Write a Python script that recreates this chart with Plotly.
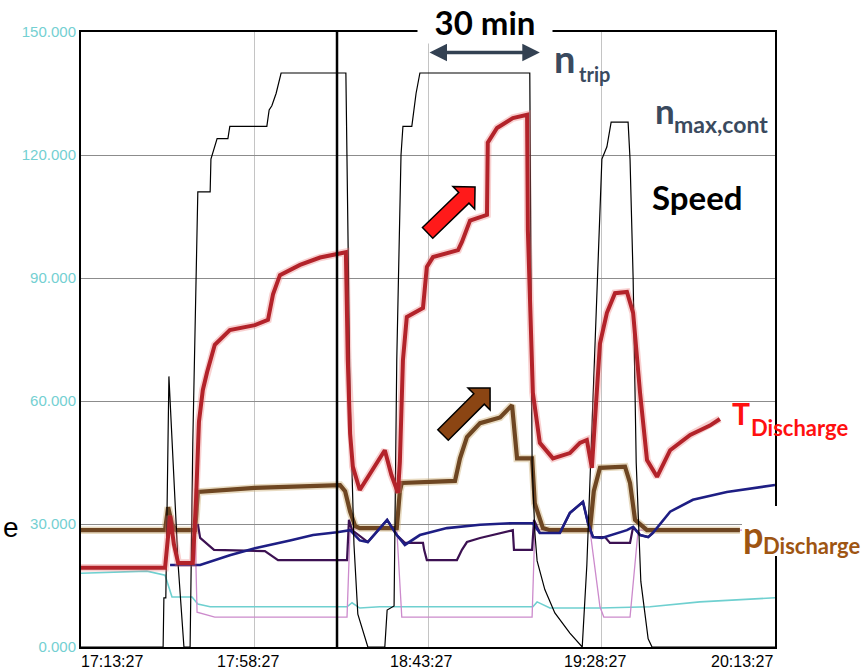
import math
import plotly.graph_objects as go

# ---------------- data (time in minutes after 17:13:27) ----------------
X_TICK_MIN = [0, 45, 90, 135, 180]
X_TICK_TEXT = ["17:13:27", "17:58:27", "18:43:27", "19:28:27", "20:13:27"]
Y_TICKS = [0, 30, 60, 90, 120, 150]
Y_TICK_TEXT = ["0.000", "30.000", "60.000", "90.000", "120.000", "150.000"]

speed_t = [0, 21.3, 21.5, 22.0, 22.8, 23.6, 25.2, 26.7, 28.3, 29.0,
           30.1, 30.3, 33.5, 33.7, 35.3, 38.1, 38.6, 48.2, 48.8, 49.5,
           50.6, 51.9, 68.7, 69.2, 69.8, 70.8, 71.8, 74.4, 78.8, 79.4,
           81.2, 81.9, 83.0, 83.5, 85.8, 86.9, 87.9, 116.4, 117.0, 117.7,
           118.3, 120.3, 122.9, 126.8, 130.0, 131.2, 132.0, 133.8, 135.1, 136.4,
           137.5, 141.9, 142.4, 143.2, 144.0, 145.2, 147.1, 148.1, 180]
speed_v = [0, 0, 12, 12, 66, 50, 20, 0, 0, 50,
           100, 111, 111, 119, 124, 124, 127, 127, 131, 132,
           135, 140, 140, 100, 60, 25, 8, 0, 0, 9,
           10, 70, 120, 127, 127, 135, 140, 140, 45, 28,
           21, 14, 8.3, 3.4, 0, 20, 41, 86, 119, 122,
           128, 128, 119, 90, 45, 16, 2, 0, 0]

t_dis_t = [0, 21.8, 23.1, 24.1, 25.2, 29.0, 29.8, 30.6, 31.6, 32.7,
           34.7, 38.6, 45.1, 48.5, 49.8, 51.6, 56.8, 62.0, 68.7, 69.2,
           69.8, 70.5, 72.3, 75.5, 78.8, 80.5, 82.2, 82.7, 83.5, 84.5,
           88.7, 89.7, 91.3, 97.8, 98.8, 100.9, 105.3, 105.5, 107.9, 112.0,
           115.7, 115.9, 117.2, 119.0, 122.4, 126.8, 129.4, 131.2, 132.5, 134.6,
           136.4, 138.5, 141.6, 143.2, 145.0, 146.8, 149.4, 152.8, 158.0, 163.1,
           165.7]
t_dis_v = [19.3, 19.3, 32, 25, 20.5, 20.5, 35, 55, 62.7, 67,
           73.7, 77.3, 78.5, 79.8, 86, 90.7, 93.2, 95, 96.3, 70,
           52, 44, 38.3, 43, 48, 42, 37.6, 45, 70, 80.5,
           82.7, 92.7, 95.1, 96.8, 98.8, 104, 105.4, 123, 126.6, 129,
           129.8, 101.7, 62, 49.8, 46, 47.3, 49.8, 50.5, 43.7, 74,
           81.5, 86.3, 86.6, 81.5, 62, 45.6, 41.5, 48, 51.7, 54,
           55.6]

p_dis_t = [0, 21.8, 22.6, 23.6, 24.6, 29.6, 30.3, 45.1, 67.2, 68.5,
           69.8, 71.1, 72.3, 81.9, 82.7, 83.2, 97.0, 98.3, 100.1, 103.5,
           108.7, 111.8, 113.1, 117.0, 117.7, 119.8, 121.6, 132.0, 133.0, 134.6,
           141.1, 142.4, 143.7, 146.8, 170.9]
p_dis_v = [28.5, 28.5, 34.1, 30, 28.5, 28.5, 37.8, 38.8, 39.5, 38,
           33, 29.5, 29, 29, 38, 40, 40.5, 46, 51.2, 54.6,
           56, 59, 46, 46, 35, 29, 28.5, 28.5, 38, 43.7,
           44, 40, 31, 28.5, 28.5]

navy_t = [23.1, 30.9, 38.6, 45.1, 54.2, 60.2, 66.4, 69.8, 72.3, 74.4,
          79.4, 81.9, 84.0, 87.9, 94.9, 103.5, 112.0, 117.2, 119.0, 124.2,
          126.8, 130.2, 131.5, 132.8, 135.1, 141.6, 143.2, 145.0, 147.1, 148.3,
          152.8, 158.7, 167.5, 180]
navy_v = [20, 20, 22.4, 24.1, 26, 27.3, 28, 28.5, 26, 25.6,
          31, 27.3, 24.9, 27.3, 29, 29.8, 30.2, 30.2, 27.8, 27.8,
          32.7, 35.4, 30.2, 26.8, 26.6, 28.5, 29.3, 27.3, 26.8, 27.8,
          33, 35.9, 37.8, 39.5]

purple_t = [30.3, 30.9, 34.5, 47.7, 51.1, 69.0, 69.5, 70.3, 74.4, 79.4,
            81.9, 84.0, 88.7, 89.0, 89.7, 97.5, 98.8, 100.1, 103.5, 112.0,
            112.3, 117.0, 117.5, 119.0, 124.2, 126.8, 130.2, 131.5, 132.8, 135.9,
            137.2, 142.4, 143.2, 145.0, 147.1, 148.3]
purple_v = [30, 26.6, 23.7, 23.4, 21.2, 21.2, 31, 28.5, 25.6, 31,
            27.3, 25.4, 25.4, 23.7, 21.2, 21.2, 23.7, 25.6, 26.6, 28.5,
            23.7, 23.7, 31, 27.8, 27.8, 32.7, 35.4, 30.2, 26.8, 26.8,
            25.4, 25.4, 29.3, 27.3, 26.8, 27.8]

pink_t = [21.8, 29.6, 30.1, 34.7, 69.0, 69.8, 81.9, 83.2, 117.0, 117.7,
          132.0, 134.6, 135.6, 142.4, 144.5, 180]
pink_v = [28.5, 28.5, 8.5, 7.3, 7.3, 28.8, 28.8, 7.3, 7.3, 28.6,
          28.6, 9.8, 7.3, 7.3, 28.5, 28.5]

cyan_t = [0, 17.1, 21.8, 22.3, 23.6, 28.8, 30.3, 33.5, 69.0, 70.3,
          72.3, 77.5, 117.2, 118.3, 121.6, 134.6, 147.6, 160.5, 180]
cyan_v = [18, 18.5, 17.5, 16, 12.2, 12.2, 10.5, 9.8, 9.8, 10.8,
          9.5, 9.8, 9.8, 11, 9.5, 9.5, 9.8, 11, 12]

cursor_t = 66.4
span_30min = [90, 119]
span_y = 145.0
red_arrow = [(89.9, 101.0), (102.2, 112.2)]
brown_arrow = [(93.9, 51.7), (106.1, 63.2)]

# ---------------- layout geometry ----------------
W_FIG, H_FIG = 865, 670
ML, MR, MT, MB = 81, 90, 32, 23
PW = W_FIG - ML - MR
PH = H_FIG - MT - MB
KX = PW / 180.0
KY = PH / 150.0


def pxx(xp):
    return (xp - ML) / PW


def pxy(yp):
    return (MT + PH - yp) / PH


fig = go.Figure()


def add_line(t, v, color, width, name):
    fig.add_trace(go.Scatter(x=t, y=v, mode="lines", name=name,
                             line=dict(color=color, width=width),
                             hoverinfo="skip", showlegend=False))


add_line(cyan_t, cyan_v, "#6FD0D0", 1.6, "cyan")
add_line(pink_t, pink_v, "#CC8ACC", 1.3, "pink")
add_line(p_dis_t, p_dis_v, "rgba(205,175,120,0.45)", 7.5, "p halo")
add_line(p_dis_t, p_dis_v, "#6E4622", 4.2, "p Discharge")
add_line(purple_t, purple_v, "#3C1152", 2.2, "purple")
add_line(navy_t, navy_v, "#1E1E84", 2.6, "navy")
add_line(speed_t, speed_v, "#000000", 1.2, "Speed")
add_line(t_dis_t, t_dis_v, "rgba(235,120,120,0.35)", 7.5, "T halo")
add_line(t_dis_t, t_dis_v, "#B3232A", 4.0, "T Discharge")

shapes = []
shapes.append(dict(type="line", xref="x", yref="paper", x0=cursor_t, x1=cursor_t,
                   y0=0, y1=1, line=dict(color="black", width=2.5), layer="above"))


def block_arrow(tail, tip, shaft_hw, head_hw, head_len, color):
    x0, y0 = tail[0] * KX, tail[1] * KY
    x1, y1 = tip[0] * KX, tip[1] * KY
    dx, dy = x1 - x0, y1 - y0
    L = math.hypot(dx, dy)
    ux, uy = dx / L, dy / L
    nx, ny = -uy, ux
    bx, by = x1 - ux * head_len, y1 - uy * head_len
    pts = [(x0 + nx * shaft_hw, y0 + ny * shaft_hw),
           (bx + nx * shaft_hw, by + ny * shaft_hw),
           (bx + nx * head_hw, by + ny * head_hw),
           (x1, y1),
           (bx - nx * head_hw, by - ny * head_hw),
           (bx - nx * shaft_hw, by - ny * shaft_hw),
           (x0 - nx * shaft_hw, y0 - ny * shaft_hw)]
    path = "M " + " L ".join(f"{px / KX:.4f},{py / KY:.4f}" for px, py in pts) + " Z"
    return dict(type="path", xref="x", yref="y", path=path, fillcolor=color,
                line=dict(color="black", width=1.5), layer="above")


shapes.append(block_arrow(red_arrow[0], red_arrow[1], 7.4, 15.6, 15.6, "#FF1A1A"))
shapes.append(block_arrow(brown_arrow[0], brown_arrow[1], 7.4, 15.6, 15.6, "#8B4513"))

# white patch behind the p_Discharge label (covers frame)
shapes.append(dict(type="rect", xref="paper", yref="paper",
                   x0=pxx(742), x1=pxx(864), y0=pxy(556), y1=pxy(506),
                   fillcolor="white", line=dict(width=0), layer="above"))

annotations = []

# x tick labels
for i, (tv, tt) in enumerate(zip(X_TICK_MIN, X_TICK_TEXT)):
    if i == 0:
        xa, xs = "left", -2
    elif i == len(X_TICK_MIN) - 1:
        xa, xs = "right", 0
    else:
        xa, xs = "center", -7
    annotations.append(dict(x=tv, y=0, xref="x", yref="paper", text=tt,
                            showarrow=False, xanchor=xa, yanchor="top",
                            xshift=xs, yshift=-4,
                            font=dict(family="Liberation Sans, Arial", size=16,
                                      color="black")))

# 30 min double arrow
annotations.append(dict(x=span_30min[1], y=span_y, ax=span_30min[0], ay=span_y,
                        xref="x", yref="y", axref="x", ayref="y", text="",
                        showarrow=True, arrowhead=2, startarrowhead=2,
                        arrowside="end+start", arrowsize=1.0, startarrowsize=1.0,
                        arrowwidth=3.5, arrowcolor="#334152"))

LATO = "Lato, Open Sans, sans-serif"
SLATE = "#3A4A5E"
BROWN_TXT = "#9E5512"


def label(text, xp, yp, size, color, xanchor="left", bg=None, width=None):
    d = dict(x=pxx(xp), y=pxy(yp), xref="paper", yref="paper", text=text,
             showarrow=False, xanchor=xanchor, yanchor="middle",
             font=dict(family=LATO, size=size, color=color))
    if bg:
        d["bgcolor"] = bg
    if width:
        d["width"] = width
    annotations.append(d)


label("<b>30 min</b>", 485, 22, 33, "black", xanchor="center", bg="white", width=132)
label("<b>n</b>", 552, 58, 38, SLATE)
label("<b>trip</b>", 577, 74, 20, SLATE)
label("<b>n</b>", 653, 110, 35, SLATE)
label("<b>max,cont</b>", 672, 124, 23, SLATE)
label("<b>Speed</b>", 697, 197, 33, "black", xanchor="center")
label("<b>T</b>", 730, 413, 30, "#FF1010")
label("<b>Discharge</b>", 749, 427, 22, "#FF1010")
label("<b>p</b>", 741, 534, 36, BROWN_TXT)
label("<b>Discharge</b>", 761, 545, 22, BROWN_TXT)
annotations.append(dict(x=pxx(11), y=pxy(527), xref="paper", yref="paper", text="e",
                        showarrow=False, xanchor="center", yanchor="middle",
                        font=dict(family="Liberation Sans, Arial", size=28, color="black")))

fig.update_layout(
    width=W_FIG, height=H_FIG,
    margin=dict(l=ML, r=MR, t=MT, b=MB, pad=0),
    paper_bgcolor="white", plot_bgcolor="white",
    shapes=shapes, annotations=annotations,
    showlegend=False,
)
fig.update_xaxes(range=[0, 180], tickvals=X_TICK_MIN, showticklabels=False,
                 showgrid=True, gridcolor="#C4C4C4", gridwidth=1,
                 showline=True, linecolor="black", linewidth=2, mirror=True,
                 zeroline=False, ticks="")
fig.update_yaxes(range=[0, 150], tickvals=Y_TICKS, ticktext=Y_TICK_TEXT,
                 tickfont=dict(family="Liberation Sans, Arial", size=15, color="#74D0D2"),
                 showgrid=True, gridcolor="#8C8C8C", gridwidth=1.2,
                 showline=True, linecolor="black", linewidth=2, mirror=True,
                 zeroline=False, ticks="")

fig.write_html("out.html")
